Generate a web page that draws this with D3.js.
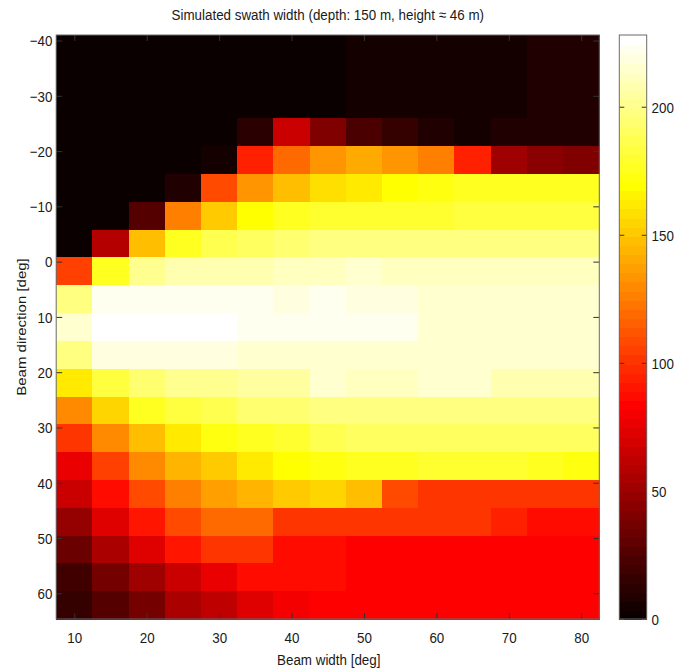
<!DOCTYPE html>
<html lang="en">
  <head>
    <meta charset="UTF-8" />
    <title>Simulated swath width</title>
    <script src="https://d3js.org/d3.v7.min.js"></script>
    <style>
      body {
        margin: 0;
        background: #ffffff;
      }
      text {
        font-family: "Liberation Sans", Arial, sans-serif;
        font-size: 13.4px;
        fill: #1a1a1a;
      }
      .cell {
        shape-rendering: crispEdges;
      }
    </style>
  </head>
  <body>
    <div id="chart"></div>
    <script>
      // Beam width (x, cell centres) and beam direction (y, cell centres), degrees
      const beamWidths = [10, 15, 20, 25, 30, 35, 40, 45, 50, 55, 60, 65, 70, 75, 80];
      const beamDirections = [
        -38.5, -33.5, -28.4, -23.4, -18.3, -13.3, -8.3, -3.2, 1.8, 6.8, 11.8,
        16.9, 21.9, 26.9, 32.0, 37.0, 42.0, 47.1, 52.1, 57.1, 62.2,
      ];

      // Simulated swath width [m], one row per beam direction
      const row00 = [1, 1, 1, 1, 1, 1, 1, 1, 5, 5, 5, 5, 5, 9, 9];
      const row01 = [1, 1, 1, 1, 1, 1, 1, 1, 5, 5, 5, 5, 5, 9, 9];
      const row02 = [1, 1, 1, 1, 1, 1, 1, 1, 5, 5, 5, 5, 5, 9, 9];
      const row03 = [1, 1, 1, 1, 1, 12.5, 66, 41, 23, 16, 9, 5, 9, 9, 9];
      const row04 = [1, 1, 1, 1, 5, 94, 118, 135, 141, 135, 127, 94, 52, 45, 41];
      const row05 = [1, 1, 1, 8, 108, 135, 148, 157, 161, 169, 171, 175, 175, 175, 175];
      const row06 = [1, 1, 28, 126, 153, 170, 176, 180, 180, 180, 180, 182, 182, 182, 182];
      const row07 = [1, 57, 148, 176, 187, 191, 194, 196, 198, 198, 198, 198, 198, 198, 198];
      const row08 = [104, 176, 201, 207, 208, 210, 212, 212, 216, 212, 212, 212, 212, 212, 212];
      const row09 = [198, 221, 223, 223, 223, 223, 219, 221, 219, 219, 217, 217, 217, 217, 217];
      const row10 = [217, 226, 226, 226, 226, 224, 223, 223, 221, 221, 217, 217, 217, 217, 217];
      const row11 = [198, 219, 220, 220, 220, 217, 217, 217, 217, 217, 217, 217, 214, 214, 214];
      const row12 = [163, 183, 194, 201, 203, 205, 205, 215, 213, 213, 214, 214, 210, 210, 210];
      const row13 = [129, 156, 176, 183, 187, 194, 194, 198, 198, 198, 198, 198, 198, 198, 198];
      const row14 = [101, 129, 148, 163, 173, 176, 180, 187, 191, 191, 192, 192, 192, 192, 192];
      const row15 = [78, 106, 131, 145, 153, 161, 169, 173, 176, 176, 180, 180, 180, 176, 173];
      const row16 = [65, 89, 110, 127, 137, 145, 152, 156, 149, 108, 102, 102, 102, 102, 102];
      const row17 = [49, 73, 92, 108, 119, 119, 102, 102, 102, 102, 102, 102, 93, 89, 88];
      const row18 = [34, 55, 72, 90, 100, 100, 89, 87, 84, 84, 84, 84, 84, 84, 84];
      const row19 = [21, 39, 50, 65, 76, 86, 86, 86, 84, 84, 84, 84, 84, 84, 84];
      const row20 = [15, 27, 39, 55, 63, 73, 79, 84, 84, 84, 84, 84, 84, 84, 84];
      const swath = [
        row00, row01, row02, row03, row04, row05, row06, row07, row08, row09, row10,
        row11, row12, row13, row14, row15, row16, row17, row18, row19, row20,
      ];

      const xTicks = [10, 20, 30, 40, 50, 60, 70, 80];
      const yTicks = [-40, -30, -20, -10, 0, 10, 20, 30, 40, 50, 60];
      const cbTicks = [0, 50, 100, 150, 200];
      const colorMax = 228;

      // Layout
      const W = 686, H = 668;
      const plot = { left: 56.2, top: 35, right: 599.3, bottom: 619 };
      const cb = { left: 619.3, right: 646.7 };
      const stretch = 1.12; // text in the original is a bit taller than wide

      // MATLAB-like hot(64) colormap
      const nColors = 64;
      const hot = d3.range(nColors).map((i) => {
        const k = i + 1;
        const r = Math.min(1, k / 24);
        const g = Math.max(0, Math.min(1, (k - 24) / 24));
        const b = Math.max(0, Math.min(1, (k - 48) / 16));
        return d3.rgb(r * 255, g * 255, b * 255).formatHex();
      });
      const colorOf = (v) =>
        hot[Math.max(0, Math.min(nColors - 1, Math.floor((v / colorMax) * nColors)))];

      const svg = d3
        .select("#chart")
        .append("svg")
        .attr("width", W)
        .attr("height", H);

      // Scales: bands for the cells, linear for the axes
      const xBand = d3.scaleBand().domain(beamWidths).range([plot.left, plot.right]);
      const yBand = d3.scaleBand().domain(beamDirections).range([plot.top, plot.bottom]);
      const x = d3.scaleLinear().domain([7.5, 82.5]).range([plot.left, plot.right]);
      const y = d3.scaleLinear().domain([-41.0, 64.65]).range([plot.top, plot.bottom]);
      const c = d3.scaleLinear().domain([0, colorMax]).range([plot.bottom, plot.top]);

      // Cells
      const cells = [];
      swath.forEach((row, i) =>
        row.forEach((v, j) => cells.push({ w: beamWidths[j], d: beamDirections[i], v }))
      );
      svg
        .append("g")
        .selectAll("rect")
        .data(cells)
        .join("rect")
        .attr("class", "cell")
        .attr("x", (d) => xBand(d.w))
        .attr("y", (d) => yBand(d.d))
        .attr("width", xBand.bandwidth() + 1)
        .attr("height", yBand.bandwidth() + 1)
        .attr("fill", (d) => colorOf(d.v));

      // Axes with inward ticks on all four sides
      function styleAxis(g) {
        g.select(".domain").remove();
        g.attr("font-size", null).attr("font-family", null);
        g.selectAll(".tick line").attr("stroke", "#333");
      }

      svg
        .append("g")
        .attr("transform", `translate(0,${plot.bottom})`)
        .call(d3.axisBottom(x).tickValues(xTicks).tickSize(-6).tickPadding(0))
        .call(styleAxis)
        .selectAll("text")
        .attr("dy", null)
        .attr("y", 23.7 / stretch)
        .attr("transform", `scale(1,${stretch})`);

      svg
        .append("g")
        .attr("transform", `translate(0,${plot.top})`)
        .call(d3.axisTop(x).tickValues(xTicks).tickSize(-6).tickFormat(""))
        .call(styleAxis);

      svg
        .append("g")
        .attr("transform", `translate(${plot.left},0)`)
        .call(d3.axisLeft(y).tickValues(yTicks).tickSize(-6).tickPadding(0))
        .call(styleAxis)
        .selectAll("text")
        .attr("dy", null)
        .attr("x", -3.7)
        .attr("y", 5.3 / stretch)
        .attr("transform", `scale(1,${stretch})`);

      svg
        .append("g")
        .attr("transform", `translate(${plot.right},0)`)
        .call(d3.axisRight(y).tickValues(yTicks).tickSize(-6).tickFormat(""))
        .call(styleAxis);

      // Plot frame
      svg
        .append("rect")
        .attr("x", plot.left)
        .attr("y", plot.top)
        .attr("width", plot.right - plot.left)
        .attr("height", plot.bottom - plot.top)
        .attr("fill", "none")
        .attr("stroke", "#6b6b6b")
        .attr("stroke-width", 1);

      // Colorbar
      svg
        .append("g")
        .selectAll("rect")
        .data(hot)
        .join("rect")
        .attr("class", "cell")
        .attr("x", cb.left)
        .attr("width", cb.right - cb.left)
        .attr("y", (d, i) => c(((i + 1) / nColors) * colorMax))
        .attr("height", (d, i) => c((i / nColors) * colorMax) - c(((i + 1) / nColors) * colorMax) + 1)
        .attr("fill", (d) => d);

      svg
        .append("g")
        .attr("transform", `translate(${cb.left},0)`)
        .call(d3.axisLeft(c).tickValues(cbTicks).tickSize(-5).tickFormat(""))
        .call(styleAxis);

      svg
        .append("g")
        .attr("transform", `translate(${cb.right},0)`)
        .call(d3.axisRight(c).tickValues(cbTicks).tickSize(-5).tickPadding(0))
        .call(styleAxis)
        .selectAll("text")
        .attr("dy", null)
        .attr("x", 4.8)
        .attr("y", 5.3 / stretch)
        .attr("transform", `scale(1,${stretch})`);

      svg
        .append("rect")
        .attr("x", cb.left)
        .attr("y", plot.top)
        .attr("width", cb.right - cb.left)
        .attr("height", plot.bottom - plot.top)
        .attr("fill", "none")
        .attr("stroke", "#6b6b6b")
        .attr("stroke-width", 1);

      // Title and axis labels
      const midX = (plot.left + plot.right) / 2;
      const midY = (plot.top + plot.bottom) / 2;

      svg
        .append("text")
        .attr("text-anchor", "middle")
        .attr("transform", `translate(${midX},20) scale(1,${stretch})`)
        .text("Simulated swath width (depth: 150 m, height \u2248 46 m)");

      svg
        .append("text")
        .attr("text-anchor", "middle")
        .attr("transform", `translate(${midX + 1},665) scale(1,${stretch})`)
        .text("Beam width [deg]");

      svg
        .append("text")
        .attr("text-anchor", "middle")
        .attr("transform", `translate(26,${midY}) scale(1,${stretch}) rotate(-90)`)
        .text("Beam direction [deg]");
    </script>
  </body>
</html>
